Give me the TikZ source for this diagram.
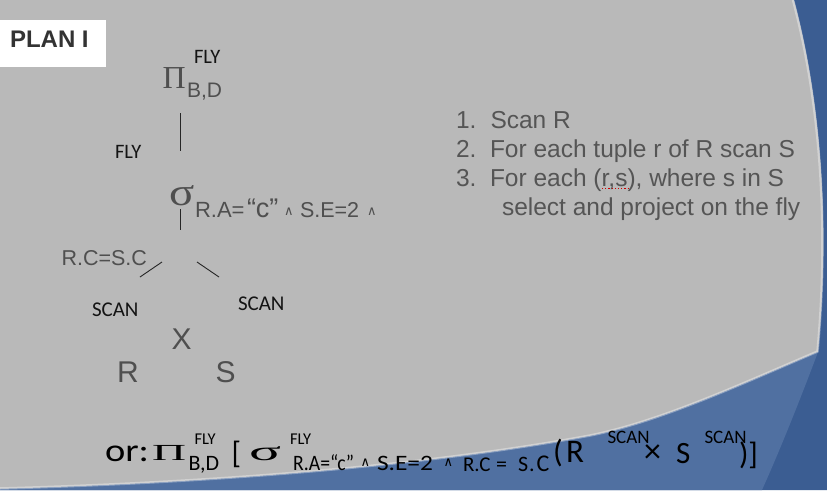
\documentclass[tikz,border=0pt]{standalone}
\usepackage{fontspec}
\usepackage{graphicx}
\setmainfont{Liberation Sans}
\newfontfamily\arialf{Liberation Sans}
\newfontfamily\serf{Liberation Serif}
\newfontfamily\calf{Carlito}
\newfontfamily\djv{DejaVu Sans}
\newcommand\fsz[1]{\fontsize{#1}{#1}\selectfont}
\newcommand\wfit[2]{\resizebox{#1pt}{\height}{#2}}
\definecolor{bggray}{HTML}{B9B9B9}
\definecolor{bluedark}{HTML}{3B5D92}
\definecolor{bluelight}{HTML}{5070A1}
\definecolor{txtgray}{HTML}{4F4F4F}
\definecolor{lstgray}{HTML}{555555}
\tikzset{
  t/.style={anchor=base west, inner sep=0pt, outer sep=0pt},
  gtxt/.style={t, text=txtgray, font=\arialf},
  lbl/.style={t, text=black!92, font=\calf\fsz{20.5}},
  lst/.style={t, text=lstgray, font=\arialf\fsz{24.5}},
  frm/.style={t, text=black, font=\calf},
  wedgeg/.style={t, text=txtgray, font=\djv\fsz{13}},
  wedgek/.style={t, text=black, font=\djv\fsz{13}},
  treeline/.style={draw=black!85, line width=0.9pt},
}
\begin{document}
\begin{tikzpicture}[x=1pt,y=-1pt]
\useasboundingbox (0,0) rectangle (827,490);
% background
\fill[bggray] (0,0) rectangle (827,490);
\fill[bluedark] (794,0) -- (827,0) -- (827,490) -- (0,490) -- (0,489)
  .. controls (250,482) and (450,462) .. (590,436)
  .. controls (660,422) and (740,385) .. (818,352)
  .. controls (828,250) and (826,120) .. (794,0) -- cycle;
\fill[bluelight] (0,490) -- (0,489)
  .. controls (250,482) and (450,462) .. (590,436)
  .. controls (660,422) and (740,385) .. (818,352)
  .. controls (800,400) and (780,450) .. (762,490) -- cycle;
\draw[white, opacity=0.35, line width=2.5pt] (0,488.5)
  .. controls (250,481.5) and (450,461.5) .. (590,435.5)
  .. controls (660,421.5) and (740,384.5) .. (817.5,351.5)
  .. controls (827,250) and (825,120) .. (793,0);
% title box
\fill[white] (0,20) rectangle (106,67);
\node[t, text=black!80, font=\arialf\bfseries\fsz{24}] (plan) at (10,47.5) {PLAN I};
% tree
\node[t, text=txtgray, font=\serf\fsz{32}] (pi) at (162.5,88) {Π};
\node[gtxt, font=\arialf\fsz{21}] (pisub) at (187,97) {B,D};
\node[lbl] (fly1) at (194,63) {FLY};
\coordinate (v1a) at (180,113);
\coordinate (v1b) at (180,151);
\draw[treeline] (v1a) -- (v1b);
\node[lbl] (fly2) at (115,158) {FLY};
\node[t, text=txtgray, font=\serf\fsz{39}] (sigma) at (169,205) {\scalebox{1.2}[1]{σ}};
\node[gtxt, font=\arialf\fsz{22}] (sg1) at (195,217) {R.A=};
\node[gtxt, font=\arialf\fsz{27}] (sg2) at (247,217) {“c”};
\node[wedgeg] (sg3) at (284,215.5) {∧};
\node[gtxt, font=\arialf\fsz{21.5}] (sg4) at (300,217) {S.E=2};
\node[wedgeg] (sg5) at (367,215.5) {∧};
\coordinate (v2a) at (180,209);
\coordinate (v2b) at (180,230);
\draw[treeline] (v2a) -- (v2b);
\node[gtxt, font=\arialf\fsz{21.5}] (join) at (61.5,265) {R.C=S.C};
\coordinate (dl1) at (162,262);
\coordinate (dl2) at (140,277);
\coordinate (dr1) at (197,262);
\coordinate (dr2) at (219,277);
\draw[treeline] (dl1) -- (dl2);
\draw[treeline] (dr1) -- (dr2);
\node[lbl, font=\calf\fsz{21}] (scanl) at (92,316) {SCAN};
\node[lbl, font=\calf\fsz{21}] (scanr) at (238,310) {SCAN};
\node[gtxt, font=\arialf\fsz{30}] (cross) at (171.5,349) {X};
\node[gtxt, font=\arialf\fsz{30}] (rr) at (117,382) {R};
\node[gtxt, font=\arialf\fsz{30}] (ss) at (215.5,382) {S};
% steps
\node[lst] (n1) at (456,128.3) {1.};
\node[lst] (i1) at (490.5,128.3) {Scan R};
\node[lst] (n2) at (456,157.3) {2.};
\node[lst] (i2) at (490,157.3) {For each tuple r of R scan S};
\node[lst] (n3) at (456,186) {3.};
\node[lst] (i3) at (490,186) {For each (r,s), where s in S};
\node[lst] (i4) at (502,215) {select and project on the fly};
\draw[red!80!black, dotted, line width=1.2pt] (602,188.5) -- (628,188.5);
% formula
\node[frm, font=\calf\fsz{32}] (or) at (105,461) {\wfit{44}{or:}};
\node[t, text=black, font=\serf\fsz{23}] (fpi) at (152,460) {\wfit{34}{Π}};
\node[frm, font=\calf\fsz{16.5}] (ffly1) at (194.5,444) {FLY};
\node[frm, font=\calf\fsz{22}] (fbd) at (188.5,470) {B,D};
\node[frm, font=\calf\fsz{31}] (lbr) at (231.5,463) {[};
\node[t, text=black, font=\serf\fsz{27}] (fsig) at (249,460) {\wfit{32}{σ}};
\node[frm, font=\calf\fsz{16.5}] (ffly2) at (290,444) {FLY};
\node[frm, font=\calf\fsz{22}] (fs1) at (293,470) {\wfit{61}{R.A=“c”}};
\node[wedgek] (fw1) at (360.5,466) {∧};
\node[frm, font=\calf\fsz{22}] (fs2) at (377,470) {\wfit{56}{S.E=2}};
\node[wedgek] (fw2) at (443.5,466.5) {∧};
\node[frm, font=\calf\fsz{21}] (fs3) at (463,471) {R.C};
\node[frm, font=\calf\fsz{22}] (fs4) at (496,471) {=};
\node[frm, font=\calf\fsz{22}] (fs5) at (518,471) {S};
\node[frm, font=\calf\fsz{22}] (fs6) at (529,471) {.};
\node[frm, font=\calf\fsz{24}] (fs7) at (536.5,471) {C};
\node[frm, font=\calf\fsz{32}] (fpar) at (553,462) {(};
\node[frm, font=\calf\fsz{33}] (fR) at (566,462) {R};
\node[frm, font=\calf\fsz{19}] (fscan1) at (607.5,443) {SCAN};
\node[frm, font=\calf\fsz{34}] (ftimes) at (644,462) {×};
\node[frm, font=\calf\fsz{31}] (fS) at (676,463) {S};
\node[frm, font=\calf\fsz{19}] (fscan2) at (704.5,443) {SCAN};
\node[frm, font=\calf\fsz{31}] (fclose) at (739,464) {)]};
\end{tikzpicture}
\end{document}
